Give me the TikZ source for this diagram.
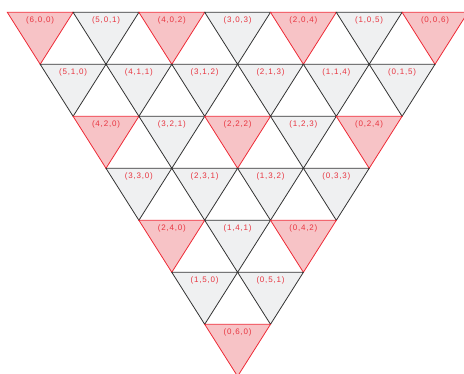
\documentclass[tikz,border=0pt]{standalone}
\usepackage{fontspec}
\setmainfont{Liberation Sans}
\newfontfamily\lblfont[LetterSpace=10]{Liberation Sans}
\definecolor{redfill}{HTML}{F7C3C6}
\definecolor{redline}{HTML}{EE2A36}
\definecolor{greyfill}{HTML}{EFF0F1}
\definecolor{lbltext}{HTML}{E8343F}
\begin{document}
\begin{tikzpicture}[x=1pt,y=-1pt,
  redtri/.style={fill=redfill,draw=redline,line width=0.8pt,line join=miter},
  greytri/.style={fill=greyfill,draw=black!80,line width=0.8pt,line join=miter},
  lbl/.style={text=lbltext,inner sep=0pt,font=\lblfont\fontsize{8}{10}\selectfont}]
\useasboundingbox (0,0) rectangle (464,374);
\clip (0,0) rectangle (464,374);
\foreach \r in {0,...,6} {
  \pgfmathtruncatemacro\n{6-\r}
  \foreach \k in {0,...,\n} {
    \pgfmathtruncatemacro\i{6-\r-\k}
    \pgfmathtruncatemacro\odd{mod(\r,2)+mod(\k,2)}
    \pgfmathsetmacro\xa{7.3+\r*32.9+\k*65.8}
    \pgfmathsetmacro\ya{12.3+\r*52}
    \ifnum\odd=0 \def\sty{redtri}\else\def\sty{greytri}\fi
    \path[\sty] (\xa,\ya) -- ++(65.8,0) -- ++(-32.9,52) -- cycle;
    \node[lbl] (t\i\r\k) at (\xa+32.9,\ya+8) {(\i,\r,\k)};
  }
}
\end{tikzpicture}
\end{document}
